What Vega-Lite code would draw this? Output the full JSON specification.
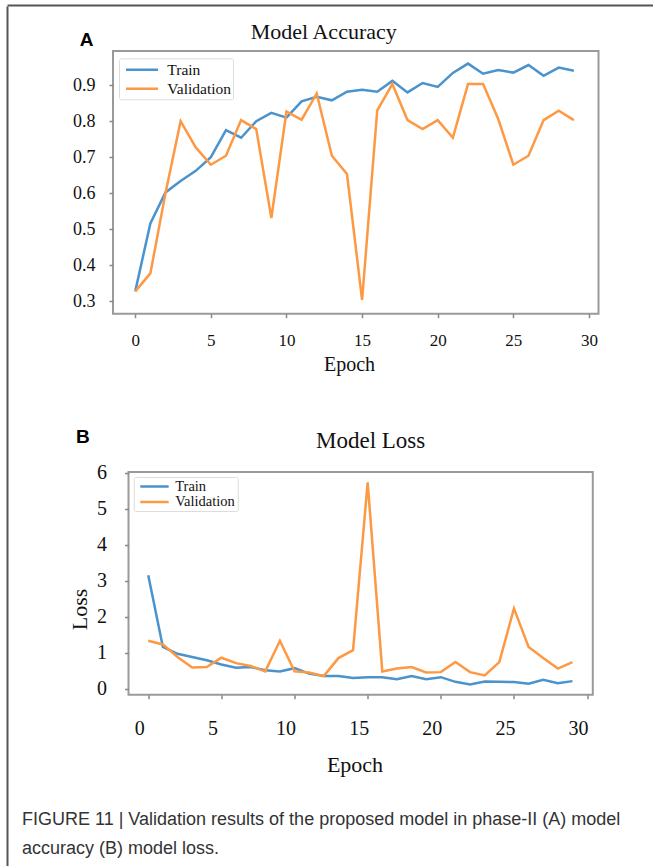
{
  "$schema": "https://vega.github.io/schema/vega-lite/v6.json",
  "background": "white",
  "autosize": {"type": "pad"},
  "padding": {"left": 7, "top": 5, "right": 0, "bottom": 0},
  "datasets": {
    "acc": [
      {"epoch":0,"series":"Train","value":0.327},{"epoch":1,"series":"Train","value":0.516},{"epoch":2,"series":"Train","value":0.602},{"epoch":3,"series":"Train","value":0.634},{"epoch":4,"series":"Train","value":0.662},{"epoch":5,"series":"Train","value":0.70},{"epoch":6,"series":"Train","value":0.775},{"epoch":7,"series":"Train","value":0.754},{"epoch":8,"series":"Train","value":0.80},{"epoch":9,"series":"Train","value":0.823},{"epoch":10,"series":"Train","value":0.81},{"epoch":11,"series":"Train","value":0.855},{"epoch":12,"series":"Train","value":0.868},{"epoch":13,"series":"Train","value":0.858},{"epoch":14,"series":"Train","value":0.882},{"epoch":15,"series":"Train","value":0.887},{"epoch":16,"series":"Train","value":0.882},{"epoch":17,"series":"Train","value":0.912},{"epoch":18,"series":"Train","value":0.88},{"epoch":19,"series":"Train","value":0.906},{"epoch":20,"series":"Train","value":0.895},{"epoch":21,"series":"Train","value":0.934},{"epoch":22,"series":"Train","value":0.96},{"epoch":23,"series":"Train","value":0.932},{"epoch":24,"series":"Train","value":0.942},{"epoch":25,"series":"Train","value":0.935},{"epoch":26,"series":"Train","value":0.956},{"epoch":27,"series":"Train","value":0.926},{"epoch":28,"series":"Train","value":0.949},{"epoch":29,"series":"Train","value":0.94},
      {"epoch":0,"series":"Validation","value":0.327},{"epoch":1,"series":"Validation","value":0.377},{"epoch":2,"series":"Validation","value":0.60},{"epoch":3,"series":"Validation","value":0.80},{"epoch":4,"series":"Validation","value":0.727},{"epoch":5,"series":"Validation","value":0.679},{"epoch":6,"series":"Validation","value":0.704},{"epoch":7,"series":"Validation","value":0.803},{"epoch":8,"series":"Validation","value":0.778},{"epoch":9,"series":"Validation","value":0.531},{"epoch":10,"series":"Validation","value":0.827},{"epoch":11,"series":"Validation","value":0.804},{"epoch":12,"series":"Validation","value":0.877},{"epoch":13,"series":"Validation","value":0.704},{"epoch":14,"series":"Validation","value":0.653},{"epoch":15,"series":"Validation","value":0.303},{"epoch":16,"series":"Validation","value":0.83},{"epoch":17,"series":"Validation","value":0.903},{"epoch":18,"series":"Validation","value":0.803},{"epoch":19,"series":"Validation","value":0.778},{"epoch":20,"series":"Validation","value":0.803},{"epoch":21,"series":"Validation","value":0.754},{"epoch":22,"series":"Validation","value":0.903},{"epoch":23,"series":"Validation","value":0.903},{"epoch":24,"series":"Validation","value":0.806},{"epoch":25,"series":"Validation","value":0.679},{"epoch":26,"series":"Validation","value":0.704},{"epoch":27,"series":"Validation","value":0.803},{"epoch":28,"series":"Validation","value":0.829},{"epoch":29,"series":"Validation","value":0.803}
    ],
    "loss": [
      {"epoch":0,"series":"Train","value":3.15},{"epoch":1,"series":"Train","value":1.16},{"epoch":2,"series":"Train","value":0.97},{"epoch":3,"series":"Train","value":0.88},{"epoch":4,"series":"Train","value":0.79},{"epoch":5,"series":"Train","value":0.67},{"epoch":6,"series":"Train","value":0.58},{"epoch":7,"series":"Train","value":0.60},{"epoch":8,"series":"Train","value":0.51},{"epoch":9,"series":"Train","value":0.48},{"epoch":10,"series":"Train","value":0.57},{"epoch":11,"series":"Train","value":0.42},{"epoch":12,"series":"Train","value":0.35},{"epoch":13,"series":"Train","value":0.35},{"epoch":14,"series":"Train","value":0.30},{"epoch":15,"series":"Train","value":0.32},{"epoch":16,"series":"Train","value":0.32},{"epoch":17,"series":"Train","value":0.26},{"epoch":18,"series":"Train","value":0.35},{"epoch":19,"series":"Train","value":0.26},{"epoch":20,"series":"Train","value":0.32},{"epoch":21,"series":"Train","value":0.19},{"epoch":22,"series":"Train","value":0.12},{"epoch":23,"series":"Train","value":0.20},{"epoch":24,"series":"Train","value":0.19},{"epoch":25,"series":"Train","value":0.185},{"epoch":26,"series":"Train","value":0.14},{"epoch":27,"series":"Train","value":0.25},{"epoch":28,"series":"Train","value":0.15},{"epoch":29,"series":"Train","value":0.21},
      {"epoch":0,"series":"Validation","value":1.33},{"epoch":1,"series":"Validation","value":1.23},{"epoch":2,"series":"Validation","value":0.88},{"epoch":3,"series":"Validation","value":0.59},{"epoch":4,"series":"Validation","value":0.60},{"epoch":5,"series":"Validation","value":0.86},{"epoch":6,"series":"Validation","value":0.71},{"epoch":7,"series":"Validation","value":0.63},{"epoch":8,"series":"Validation","value":0.48},{"epoch":9,"series":"Validation","value":1.33},{"epoch":10,"series":"Validation","value":0.48},{"epoch":11,"series":"Validation","value":0.45},{"epoch":12,"series":"Validation","value":0.35},{"epoch":13,"series":"Validation","value":0.85},{"epoch":14,"series":"Validation","value":1.07},{"epoch":15,"series":"Validation","value":5.73},{"epoch":16,"series":"Validation","value":0.48},{"epoch":17,"series":"Validation","value":0.56},{"epoch":18,"series":"Validation","value":0.60},{"epoch":19,"series":"Validation","value":0.45},{"epoch":20,"series":"Validation","value":0.46},{"epoch":21,"series":"Validation","value":0.74},{"epoch":22,"series":"Validation","value":0.46},{"epoch":23,"series":"Validation","value":0.37},{"epoch":24,"series":"Validation","value":0.74},{"epoch":25,"series":"Validation","value":2.23},{"epoch":26,"series":"Validation","value":1.16},{"epoch":27,"series":"Validation","value":0.85},{"epoch":28,"series":"Validation","value":0.56},{"epoch":29,"series":"Validation","value":0.74}
    ]
  },
  "config": {
    "view": {"stroke": "#9a9a9a", "strokeWidth": 2},
    "axis": {"domain": false, "grid": false, "labelFont": "Liberation Serif", "labelColor": "#111", "tickColor": "#888", "tickWidth": 1.5, "titleFont": "Liberation Serif", "titleColor": "#111", "titleFontWeight": "normal", "labelFlush": false, "labelOverlap": false},
    "legend": {"labelFont": "Liberation Serif", "labelColor": "#111", "strokeColor": "#dddddd", "fillColor": "white", "cornerRadius": 2, "symbolStrokeWidth": 2.5},
    "title": {"font": "Liberation Serif", "fontWeight": "normal", "color": "#111"}
  },
  "resolve": {"scale": {"color": "independent"}, "legend": {"color": "independent"}},
  "spacing": 0,
  "vconcat": [
    {
      "width": 646, "height": 0.01,
      "view": {"stroke": null},
      "data": {"values": []},
      "mark": "point",
      "encoding": {
        "x": {"field": "bx", "type": "quantitative", "scale": {"domain": [0, 1]}, "axis": {"orient": "top", "labels": false, "ticks": false, "title": null, "domain": true, "domainColor": "#555", "domainWidth": 2}}
      }
    },
    {
      "spacing": 14,
      "resolve": {"scale": {"color": "independent"}, "legend": {"color": "independent"}},
      "hconcat": [
        {
          "width": 0.01, "height": 860,
          "view": {"stroke": null},
          "data": {"values": []},
          "mark": "point",
          "encoding": {
            "y": {"field": "by", "type": "quantitative", "scale": {"domain": [0, 1]}, "axis": {"orient": "left", "labels": false, "ticks": false, "title": null, "domain": true, "domainColor": "#555", "domainWidth": 2}}
          }
        },
        {
          "spacing": 12,
          "resolve": {"scale": {"color": "independent"}, "legend": {"color": "independent"}},
          "title": {"text": ["FIGURE 11 | Validation results of the proposed model in phase-II (A) model", "accuracy (B) model loss."], "orient": "bottom", "anchor": "start", "frame": "bounds", "font": "Liberation Sans", "fontSize": 18, "fontWeight": "normal", "color": "#333", "baseline": "top", "offset": 35, "lineHeight": 28.7, "align": "left"},
          "vconcat": [
            {"width": 0.01, "height": 0.01, "view": {"stroke": null}, "data": {"values": []}, "mark": "point"},
            {
              "spacing": 51,
              "resolve": {"scale": {"color": "independent"}, "legend": {"color": "independent"}},
              "vconcat": [
                {
                  "spacing": 48,
                  "resolve": {"scale": {"color": "independent"}, "legend": {"color": "independent"}},
                  "hconcat": [
                    {"width": 0.01, "height": 0.01, "view": {"stroke": null}, "data": {"values": []}, "mark": "point"},
                    {
                      "width": 485.5, "height": 262.7,
                      "title": {"text": "Model Accuracy", "fontSize": 22, "anchor": "middle", "frame": "group", "baseline": "alphabetic", "offset": -30.8, "dx": -32},
                      "data": {"name": "acc"},
                      "mark": {"type": "line", "strokeWidth": 2.5},
                      "encoding": {
                        "x": {"field": "epoch", "type": "quantitative", "scale": {"domain": [-1.47, 30.63], "nice": false, "zero": false},
                              "axis": {"values": [0,5,10,15,20,25,30], "format": "d", "labelFontSize": 17, "tickSize": 4, "labelPadding": 15, "title": "Epoch", "titleFontSize": 20, "titleX": 236, "titleY": 56.5, "titleAlign": "center", "titleBaseline": "alphabetic"}},
                        "y": {"field": "value", "type": "quantitative", "scale": {"domain": [0.265, 0.995], "nice": false, "zero": false},
                              "axis": {"values": [0.3,0.4,0.5,0.6,0.7,0.8,0.9], "format": ".1f", "labelFontSize": 18, "tickSize": 4, "labelPadding": 14, "title": "A", "titleAngle": 0, "titleFont": "Liberation Sans", "titleFontWeight": "bold", "titleFontSize": 19, "titleColor": "#000", "titleX": -27, "titleY": -6, "titleAlign": "center", "titleBaseline": "alphabetic"}},
                        "color": {"field": "series", "type": "nominal", "scale": {"domain": ["Train", "Validation"], "range": ["#4a93cc", "#fd9843"]},
                                  "legend": {"title": null, "orient": "none", "legendX": 6, "legendY": 7.3, "symbolType": "M-0.53,0H3.24", "symbolSize": 289, "labelFontSize": 15.5, "labelOffset": 26.8, "padding": 1.5, "rowPadding": 0}}
                      }
                    }
                  ]
                },
                {
                  "spacing": 43.5,
                  "resolve": {"scale": {"color": "independent"}, "legend": {"color": "independent"}},
                  "title": {"text": "B", "anchor": "start", "frame": "bounds", "font": "Liberation Sans", "fontWeight": "bold", "fontSize": 19, "color": "#000", "baseline": "alphabetic", "offset": -32.4, "dx": 54},
                  "hconcat": [
                    {"width": 0.01, "height": 0.01, "view": {"stroke": null}, "data": {"values": []}, "mark": "point"},
                    {
                      "width": 464.3, "height": 222.7,
                      "title": {"text": "Model Loss", "fontSize": 23, "anchor": "middle", "frame": "group", "baseline": "alphabetic", "offset": -8.4, "dx": 10},
                      "data": {"name": "loss"},
                      "mark": {"type": "line", "strokeWidth": 2.5},
                      "encoding": {
                        "x": {"field": "epoch", "type": "quantitative", "scale": {"domain": [-1.35, 30.39], "nice": false, "zero": false},
                              "axis": {"values": [0,5,10,15,20,25,30], "format": "d", "labelFontSize": 20, "tickSize": 4, "labelPadding": 20, "labelOffset": -9, "title": "Epoch", "titleFontSize": 22, "titleX": 226, "titleY": 76.5, "titleAlign": "center", "titleBaseline": "alphabetic"}},
                        "y": {"field": "value", "type": "quantitative", "scale": {"domain": [-0.167, 6.02], "nice": false, "zero": false},
                              "axis": {"values": [0,1,2,3,4,5,6], "format": "d", "labelFontSize": 20, "tickSize": 4, "labelPadding": 18, "title": "Loss", "titleFontSize": 22, "titleX": -42.5, "titleY": 137, "titleAlign": "center", "titleBaseline": "alphabetic"}},
                        "color": {"field": "series", "type": "nominal", "scale": {"domain": ["Train", "Validation"], "range": ["#4a93cc", "#fd9843"]},
                                  "legend": {"title": null, "orient": "none", "legendX": 5.3, "legendY": 5, "symbolType": "M-0.5,0H4.23", "symbolSize": 144, "labelFontSize": 14.5, "labelOffset": 24.4, "padding": 2, "rowPadding": 0.5}}
                      }
                    }
                  ]
                }
              ]
            }
          ]
        }
      ]
    }
  ]
}
